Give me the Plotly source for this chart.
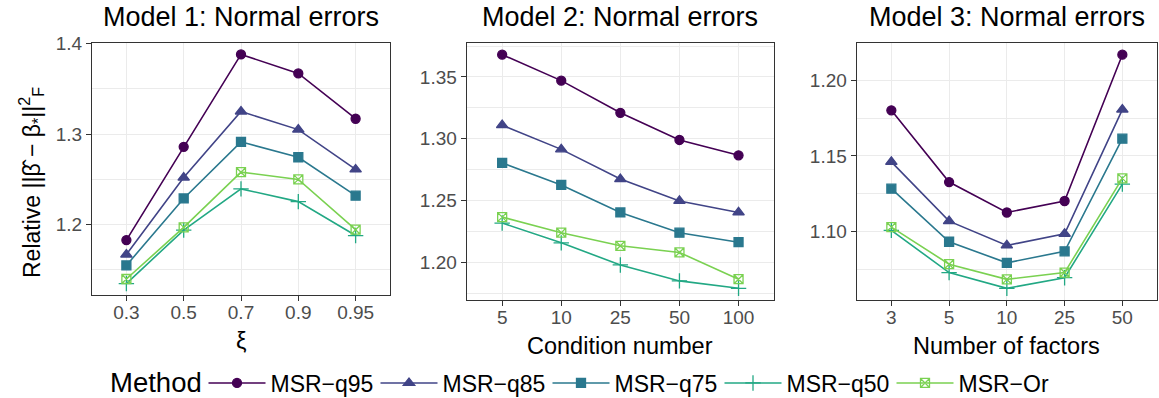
import plotly.graph_objects as go

W, H = 1159, 398
FONT = "Liberation Sans, Arial, sans-serif"

methods = ["MSR\u2212q95", "MSR\u2212q85", "MSR\u2212q75", "MSR\u2212q50", "MSR\u2212Or"]
colors = ["#440154", "#414487", "#2A788E", "#22A884", "#7AD151"]
symbols = ["circle", "triangle-up", "square", "cross-thin", "square-x-open"]
msizes = [9, 10, 9, 11, 9]

# Model 1
xi_labels = ["0.3", "0.5", "0.7", "0.9", "0.95"]
m1_q95 = [1.183, 1.286, 1.388, 1.367, 1.317]
m1_q85 = [1.167, 1.252, 1.325, 1.305, 1.261]
m1_q75 = [1.155, 1.229, 1.2915, 1.2745, 1.232]
m1_q50 = [1.135, 1.194, 1.2395, 1.2255, 1.188]
m1_or = [1.140, 1.197, 1.258, 1.250, 1.1945]

# Model 2
cond_labels = ["5", "10", "25", "50", "100"]
m2_q95 = [1.368, 1.347, 1.321, 1.299, 1.2866]
m2_q85 = [1.311, 1.2914, 1.2674, 1.2497, 1.2404]
m2_q75 = [1.2805, 1.2626, 1.2404, 1.224, 1.2163]
m2_q50 = [1.2318, 1.2158, 1.1979, 1.185, 1.179]
m2_or = [1.2366, 1.224, 1.2134, 1.208, 1.1864]

# Model 3
fac_labels = ["3", "5", "10", "25", "50"]
m3_q95 = [1.1801, 1.1328, 1.1127, 1.1203, 1.2168]
m3_q85 = [1.1461, 1.107, 1.091, 1.0987, 1.1806]
m3_q75 = [1.1284, 1.0934, 1.0795, 1.0871, 1.1614]
m3_q50 = [1.1009, 1.0731, 1.0627, 1.0697, 1.1314]
m3_or = [1.1031, 1.0786, 1.0686, 1.0731, 1.1352]

panels = [
    dict(title="Model 1: Normal errors", xlab="\u03be", cats=xi_labels,
         series=[m1_q95, m1_q85, m1_q75, m1_q50, m1_or],
         dtick=0.1, fmt=".1f", px=(92, 390), py=(43, 295)),
    dict(title="Model 2: Normal errors", xlab="Condition number", cats=cond_labels,
         series=[m2_q95, m2_q85, m2_q75, m2_q50, m2_or],
         dtick=0.05, fmt=".2f", px=(466.7, 774), py=(43, 300)),
    dict(title="Model 3: Normal errors", xlab="Number of factors", cats=fac_labels,
         series=[m3_q95, m3_q85, m3_q75, m3_q50, m3_or],
         dtick=0.05, fmt=".2f", px=(856.7, 1157), py=(43, 300)),
]

fig = go.Figure()
annotations = []
layout = dict(width=W, height=H, margin=dict(l=0, r=0, t=0, b=0, autoexpand=False),
              paper_bgcolor="white", plot_bgcolor="white",
              font=dict(family=FONT, color="black"))

for i, p in enumerate(panels):
    n = "" if i == 0 else str(i + 1)
    xa, ya = "x" + n, "y" + n
    for j, m in enumerate(methods):
        fig.add_trace(go.Scatter(
            x=p["cats"], y=p["series"][j], mode="lines+markers", name=m,
            xaxis=xa, yaxis=ya, showlegend=(i == 0), legendgroup=m,
            line=dict(color=colors[j], width=1.6),
            marker=dict(symbol=symbols[j], size=msizes[j], color=colors[j],
                        line=dict(color=colors[j], width=1.3)),
        ))
    allv = [v for s in p["series"] for v in s]
    lo, hi = min(allv), max(allv)
    pad = (hi - lo) * 0.05
    x0, x1 = p["px"]
    y0, y1 = p["py"]
    axis_common = dict(showline=True, mirror=True, linecolor="#333333", linewidth=1.1,
                       ticks="outside", ticklen=5, tickwidth=1.1, tickcolor="#333333",
                       tickfont=dict(family=FONT, size=19, color="#4D4D4D"),
                       showgrid=True, gridcolor="#EBEBEB", gridwidth=1.1, zeroline=False)
    layout["xaxis" + n] = dict(axis_common, type="category", categoryorder="array",
                               categoryarray=p["cats"], range=[-0.6, 4.6],
                               ticklabelstandoff=-5,
                               domain=[x0 / W, x1 / W], anchor=ya)
    layout["yaxis" + n] = dict(axis_common, range=[lo - pad, hi + pad],
                               dtick=p["dtick"], tick0=0, tickformat=p["fmt"],
                               minor=dict(dtick=p["dtick"] / 2, tick0=0, showgrid=True,
                                          gridcolor="#EBEBEB", gridwidth=0.55, ticks=""),
                               domain=[1 - y1 / H, 1 - y0 / H], anchor=xa)
    annotations.append(dict(text=p["title"], x=(x0 + x1) / 2 / W, y=1 - 17 / H,
                            xref="paper", yref="paper", xanchor="center", yanchor="middle",
                            showarrow=False, font=dict(family=FONT, size=27, color="black")))
    annotations.append(dict(text=p["xlab"], x=(x0 + x1) / 2 / W,
                            y=1 - (y1 + 46) / H,
                            xref="paper", yref="paper", xanchor="center", yanchor="middle",
                            showarrow=False, font=dict(family=FONT, size=23.5, color="black")))

annotations.append(dict(
    text="Relative ||\u03b2\u0302 \u2212 \u03b2<sub>*</sub>||<sup>2</sup><sub>F</sub>",
    x=31 / W, y=1 - 183 / H, xref="paper", yref="paper", textangle=-90,
    xanchor="center", yanchor="middle", showarrow=False,
    font=dict(family=FONT, size=23, color="black")))

annotations.append(dict(
    text="Method", x=108 / W, y=1 - 382 / H, xref="paper", yref="paper",
    xanchor="left", yanchor="middle", showarrow=False,
    font=dict(family=FONT, size=27.5, color="black")))

layout["annotations"] = annotations
layout["legend"] = dict(orientation="h", x=203.5 / W, xanchor="left", y=1 - 383 / H,
                        yanchor="middle", itemwidth=57, entrywidth=100,
                        font=dict(family=FONT, size=23, color="black"),
                        bgcolor="rgba(0,0,0,0)")
fig.update_layout(**layout)
fig.write_html("out.html")
